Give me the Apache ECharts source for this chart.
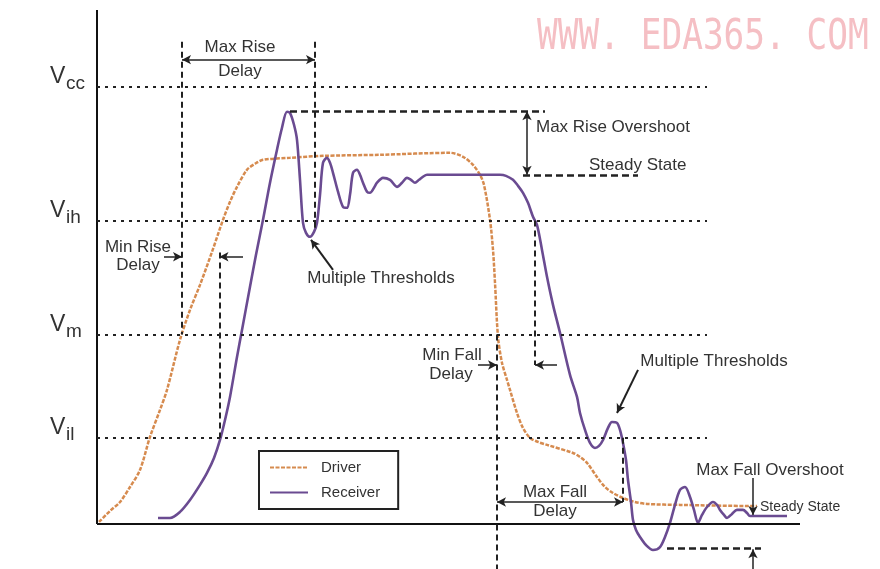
<!DOCTYPE html>
<html><head><meta charset="utf-8">
<script src="https://cdn.jsdelivr.net/npm/echarts@6/dist/echarts.min.js"></script>
<style>html,body{margin:0;padding:0;background:#fff}#c{width:880px;height:569px}</style>
</head><body><div id="c"></div>
<script>
// ---- thresholds (volts) ----
const VCC = 3.3, VIH = 2.29, VM = 1.43, VIL = 0.65;
const thresholdValues = [VCC, VIH, VM, VIL];
const thresholdSubs = ['cc', 'ih', 'm', 'il'];

// ---- Driver waveform (time, volts) ----
const driverT = [0.4,2.6,4.6,6.6,8.6,10.6,12.6,14.0,16.6,18.6,20.6,23.0,25.2,26.6,28.0,30.0,31.6,33.2,38.6,45.2,56.6,70.6,73.2,75.2,76.6,77.4,78.6,79.2,79.6,80.2,81.0,82.0,82.6,84.0,85.2,86.6,88.2,90.0,95.2,96.6,98.0,100.0,101.6,103.2,105.2,107.6,110.0,116.6,130.6,132.0];
const driverV = [0.015,0.098,0.166,0.279,0.408,0.657,0.861,1.012,1.390,1.616,1.805,2.054,2.296,2.432,2.545,2.674,2.719,2.749,2.764,2.779,2.787,2.802,2.772,2.711,2.636,2.560,2.296,2.069,1.820,1.412,1.216,1.088,1.012,0.838,0.725,0.650,0.619,0.597,0.536,0.506,0.461,0.355,0.279,0.234,0.196,0.166,0.151,0.144,0.136,0.136];

// ---- Receiver waveform (time, volts) ----
const receiverT = [12.2,14.6,16.6,18.6,20.6,22.0,23.4,24.6,25.6,26.6,28.0,29.0,30.6,31.8,33.2,34.6,36.0,37.0,38.0,38.6,39.4,40.0,40.6,41.2,41.8,42.6,43.4,44.0,44.6,45.2,46.0,46.6,47.2,48.2,49.2,50.0,50.6,51.2,52.0,52.6,53.2,54.0,54.6,55.4,56.0,57.2,58.6,60.0,61.0,62.0,62.8,63.6,64.4,65.2,66.0,80.6,81.8,83.2,84.2,85.2,86.2,87.2,88.0,89.0,90.0,91.2,92.6,94.6,96.0,96.6,97.6,98.6,99.6,100.4,101.2,102.2,103.0,104.0,104.6,105.2,105.8,106.2,106.8,107.2,107.8,108.6,109.8,111.2,112.6,113.6,114.6,115.6,116.6,117.6,118.6,119.4,120.2,121.0,122.0,123.2,124.0,124.6,125.4,126.0,127.0,128.0,129.2,130.0,130.6,138.0];
const receiverV = [0.045,0.045,0.091,0.181,0.295,0.385,0.498,0.634,0.785,0.959,1.261,1.465,1.790,2.032,2.296,2.576,2.825,2.991,3.112,3.104,3.014,2.900,2.598,2.273,2.198,2.168,2.205,2.273,2.485,2.727,2.764,2.727,2.651,2.508,2.394,2.387,2.485,2.651,2.674,2.636,2.576,2.508,2.500,2.538,2.576,2.613,2.598,2.545,2.576,2.613,2.598,2.576,2.598,2.621,2.636,2.636,2.628,2.598,2.553,2.500,2.424,2.319,2.258,2.069,1.866,1.654,1.443,1.125,0.959,0.838,0.710,0.612,0.574,0.589,0.634,0.725,0.770,0.763,0.710,0.612,0.483,0.332,0.166,0.030,-0.045,-0.098,-0.159,-0.196,-0.174,-0.098,0.008,0.144,0.257,0.279,0.204,0.106,0.008,0.068,0.128,0.166,0.144,0.106,0.068,0.045,0.076,0.106,0.106,0.083,0.060,0.060];

// ---- annotation text (label, time, volts, align, size) ----
const noteText  = ['Max Rise','Delay','Max Rise Overshoot','Steady State','Min Rise','Delay','Multiple Thresholds','Min Fall','Delay','Multiple Thresholds','Max Fall','Delay','Max Fall Overshoot','Steady State'];
const noteT     = [28.6,28.6,87.8,98.4,8.2,8.2,56.8,71.0,70.8,123.4,91.6,91.6,134.6,132.6];
const noteV     = [3.595,3.414,2.991,2.704,2.092,1.956,1.858,1.276,1.133,1.231,0.242,0.098,0.408,0.128];
const noteAlign = ['center','center','left','left','center','center','center','center','center','center','center','center','center','left'];
const noteSize  = [17,17,17,17,17,17,17,17,17,17,17,17,17,14];

const X_MAX = 140.6, Y_MIN = -0.34, Y_MAX = 3.88;
const FONT = '"Liberation Sans", Arial, Helvetica, sans-serif';
const INK = '#222';

const zip = (a, b) => a.map((x, i) => [x, b[i]]);

// helpers for annotation segments (data coords)
function seg(a, b, style, s0, s1) {
  return [
    { coord: a, symbol: s0 || 'none', lineStyle: style },
    { coord: b, symbol: s1 || 'none', lineStyle: style }
  ];
}
const AXIS = { color: '#111', width: 2, type: 'solid' };
const DOT = { color: INK, width: 2, type: [3, 5] };
const DASH = { color: INK, width: 2, type: [6, 4] };
const DASH2 = { color: INK, width: 2.5, type: [7, 4] };
const ARR = { color: INK, width: 1.5, type: 'solid' };

const annotLines = [
  seg([0, 0], [X_MAX, 0], AXIS),
  seg([0, 0], [0, Y_MAX], AXIS),
  ...thresholdValues.map(v => seg([0, v], [122, v], DOT)),
  // max rise delay
  seg([17.0, 3.64], [17.0, VM], DASH),
  seg([43.6, 3.64], [43.6, 2.22], DASH),
  seg([17.0, 3.505], [43.6, 3.505], ARR, 'arrow', 'arrow'),
  // max rise overshoot
  seg([38.6, 3.115], [89.6, 3.115], DASH2),
  seg([86.0, 3.115], [86.0, 2.636], ARR, 'arrow', 'arrow'),
  seg([85.2, 2.63], [108.2, 2.63], DASH2),
  // min rise delay
  seg([24.5, 2.05], [24.5, VIL], DASH),
  seg([29.2, 2.017], [24.5, 2.017], ARR, 'none', 'arrow'),
  seg([13.4, 2.017], [17.0, 2.017], ARR, 'none', 'arrow'),
  // multiple thresholds 1
  seg([47.2, 1.918], [42.8, 2.145], { color: INK, width: 2, type: 'solid' }, 'none', 'arrow'),
  // min fall delay
  seg([80.0, VM], [80.0, Y_MIN], DASH),
  seg([87.6, VIH], [87.6, 1.20], DASH),
  seg([76.2, 1.20], [80.0, 1.20], ARR, 'none', 'arrow'),
  seg([92.0, 1.20], [87.6, 1.20], ARR, 'none', 'arrow'),
  // multiple thresholds 2
  seg([108.2, 1.163], [104.0, 0.838], { color: INK, width: 2, type: 'solid' }, 'none', 'arrow'),
  // max fall delay
  seg([105.2, VIL], [105.2, 0.166], DASH),
  seg([80.0, 0.166], [105.2, 0.166], ARR, 'arrow', 'arrow'),
  // max fall overshoot
  seg([131.2, 0.347], [131.2, 0.068], ARR, 'none', 'arrow'),
  seg([131.2, Y_MIN], [131.2, -0.19], ARR, 'none', 'arrow'),
  seg([114.0, -0.181], [132.8, -0.181], DASH2)
];

const chart = echarts.init(document.getElementById('c'), null, { renderer: 'canvas' });
chart.setOption({
  animation: false,
  backgroundColor: '#fff',
  grid: { left: 97, top: 10, width: 703, height: 559, containLabel: false },
  xAxis: { type: 'value', min: 0, max: X_MAX, show: true,
    axisLine: { show: false }, axisTick: { show: false }, axisLabel: { show: false }, splitLine: { show: false } },
  yAxis: { type: 'value', min: Y_MIN, max: Y_MAX,
    axisLine: { show: false }, axisTick: { show: false }, axisLabel: { show: false }, splitLine: { show: false } },
  legend: {
    data: ['Driver', 'Receiver'], orient: 'vertical', left: 259, top: 451,
    padding: [9, 18, 9, 10], itemWidth: 38, itemHeight: 14, itemGap: 10,
    borderColor: INK, borderWidth: 2,
    itemStyle: { opacity: 0 },
    textStyle: { fontSize: 15, color: '#333', fontFamily: FONT, padding: [0, 0, 0, 8] }
  },
  series: [
    { name: 'annot', type: 'line', data: [], silent: true, z: 1,
      markLine: { silent: true, animation: false, symbolSize: [7, 9], label: { show: false },
        emphasis: { disabled: true }, data: annotLines } },
    { name: 'Driver', type: 'line', data: zip(driverT, driverV), symbol: 'none', smooth: 0.3, z: 3,
      lineStyle: { color: '#d68b4f', width: 2.5, type: [4, 1.5] }, itemStyle: { color: '#d68b4f' } },
    { name: 'Receiver', type: 'line', data: zip(receiverT, receiverV), symbol: 'none', smooth: 0.3, z: 4,
      lineStyle: { color: '#6a4b91', width: 2.6 }, itemStyle: { color: '#6a4b91' } }
  ]
});

// text annotations placed in data coordinates
const px = (t, v) => chart.convertToPixel({ gridIndex: 0 }, [t, v]);
const graphics = [];
noteText.forEach((txt, i) => {
  const p = px(noteT[i], noteV[i]);
  graphics.push({ type: 'text', x: p[0], y: p[1], z: 10, silent: true,
    style: { text: txt, fill: '#333', font: noteSize[i] + 'px ' + FONT, align: noteAlign[i], verticalAlign: 'middle' } });
});
thresholdValues.forEach((v, i) => {
  const p = px(0, v);
  graphics.push({ type: 'text', x: 50, y: p[1] - 10, z: 10, silent: true,
    style: { text: 'V', fill: '#333', font: '23px ' + FONT, align: 'left', verticalAlign: 'middle' } });
  graphics.push({ type: 'text', x: 66, y: p[1] - 3, z: 10, silent: true,
    style: { text: thresholdSubs[i], fill: '#333', font: '19px ' + FONT, align: 'left', verticalAlign: 'middle' } });
});
graphics.push({ type: 'text', x: 537, y: 38, z: 10, silent: true, scaleX: 0.82,
  style: { text: 'WWW. EDA365. COM', fill: '#f5bfc4', font: '42px "DejaVu Sans Mono", monospace', align: 'left', verticalAlign: 'middle' } });
chart.setOption({ graphic: graphics });
</script>
</body></html>
